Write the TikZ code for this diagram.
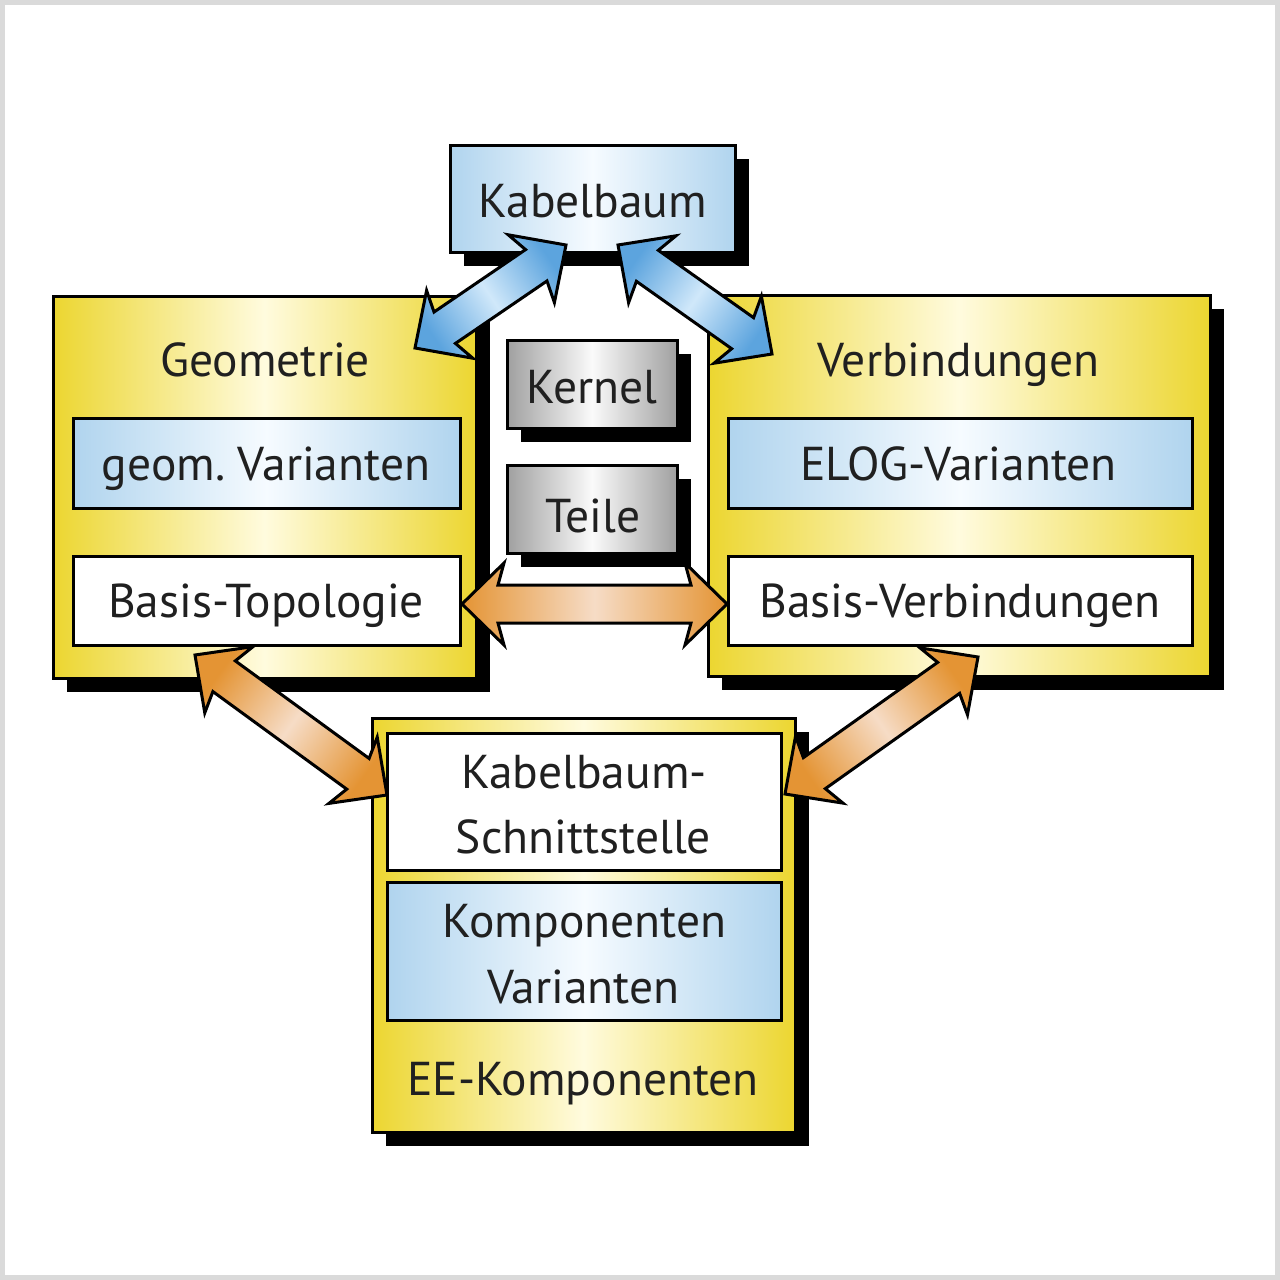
\documentclass[tikz,border=0pt]{standalone}
\usepackage{fontspec}
\setmainfont{PT Sans}
\usetikzlibrary{calc,shadows}
\definecolor{yel}{RGB}{236,214,48}
\definecolor{yelL}{RGB}{255,251,222}
\definecolor{blu}{RGB}{176,212,238}
\definecolor{bluL}{RGB}{246,251,255}
\definecolor{gry}{RGB}{160,160,160}
\definecolor{gryL}{RGB}{250,250,250}
\definecolor{orD}{RGB}{228,148,52}
\definecolor{orL}{RGB}{246,220,198}
\definecolor{arB}{RGB}{92,164,222}
\definecolor{arBL}{RGB}{208,232,250}
\definecolor{txt}{RGB}{32,32,32}
\definecolor{frame}{RGB}{218,218,218}
\frenchspacing
\tikzset{
  box/.style={draw=black, line width=3pt, rectangle, inner sep=0pt},
  shad/.style={drop shadow={shadow xshift=14pt, shadow yshift=-14pt, fill=black, opacity=1}},
  ybox/.style={box, shad, left color=yel, right color=yel, middle color=yelL},
  bbox/.style={box, left color=blu, right color=blu, middle color=bluL},
  wbox/.style={box, fill=white},
  gbox/.style={box, shad, left color=gry, right color=gry, middle color=gryL},
  lbl/.style={text=txt, font=\fontsize{47.5}{58}\selectfont, inner sep=0pt, anchor=base},
  blarrow/.style={draw=black, line width=3pt, line join=miter, left color=arB, right color=arB, middle color=arBL},
  orarrow/.style={draw=black, line width=3pt, line join=miter, left color=orD, right color=orD, middle color=orL},
}
% double block arrow between two named coordinates: #1 start, #2 end, #3 style, #4 shading angle
\newcommand\dblarr[4]{%
  \path[#3, shading angle=#4]
    (#1)
    -- ($(#1)!42pt!(#2)!41pt!90:(#2)$)
    -- ($(#1)!36pt!(#2)!19pt!90:(#2)$)
    -- ($(#2)!36pt!(#1)!19pt!-90:(#1)$)
    -- ($(#2)!42pt!(#1)!41pt!-90:(#1)$)
    -- (#2)
    -- ($(#2)!42pt!(#1)!41pt!90:(#1)$)
    -- ($(#2)!36pt!(#1)!19pt!90:(#1)$)
    -- ($(#1)!36pt!(#2)!19pt!-90:(#2)$)
    -- ($(#1)!42pt!(#2)!41pt!-90:(#2)$)
    -- cycle;}
\begin{document}
\begin{tikzpicture}[x=1pt,y=-1pt]
\useasboundingbox (0,0) rectangle (1280,1280);
\fill[white] (0,0) rectangle (1280,1280);
\draw[frame, line width=5pt] (2.5,2.5) rectangle (1277.5,1277.5);

% top box
\node[box, shad, left color=blu, right color=blu, middle color=bluL, minimum width=285pt, minimum height=107pt] (kb) at (592.5,198.5) {};
\node[lbl] (kbt) at (593,217) {Kabelbaum};

% left group
\node[ybox, minimum width=423pt, minimum height=382pt] (geo) at (264.5,487) {};
\node[lbl] (geot) at (265,376) {Geometrie};
\node[bbox, minimum width=387pt, minimum height=90pt] (gv) at (266.5,463) {};
\node[lbl] (gvt) at (266,480) {geom. Varianten};
\node[wbox, minimum width=387pt, minimum height=89pt] (bt) at (266.5,600.5) {};
\node[lbl] (btt) at (266,617) {Basis-Topologie};

% right group
\node[ybox, minimum width=502pt, minimum height=381pt] (ver) at (959,485.5) {};
\node[lbl] (vert) at (958.5,376) {Verbindungen};
\node[bbox, minimum width=464pt, minimum height=90pt] (ev) at (960,463) {};
\node[lbl] (evt) at (958.5,480) {ELOG-Varianten};
\node[wbox, minimum width=464pt, minimum height=89pt] (bv) at (960,600.5) {};
\node[lbl] (bvt) at (960,617) {Basis-Verbindungen};

% middle
\node[gbox, minimum width=170pt, minimum height=88pt] (ke) at (592,384) {};
\node[lbl] (ket) at (592,403) {Kernel};
\node[gbox, minimum width=170pt, minimum height=88pt] (te) at (592,509) {};
\node[lbl] (tet) at (593,532) {Teile};

% bottom group
\node[ybox, minimum width=423pt, minimum height=414pt] (ee) at (583.5,925) {};
\node[wbox, minimum width=394pt, minimum height=137pt] (ks) at (584.5,801.5) {};
\node[lbl] (ks1) at (584,788) {Kabelbaum-};
\node[lbl] (ks2) at (583.5,853) {Schnittstelle};
\node[bbox, minimum width=394pt, minimum height=138pt] (kv) at (584.5,951) {};
\node[lbl] (kv1) at (584.5,937) {Komponenten};
\node[lbl] (kv2) at (583.5,1003) {Varianten};
\node[lbl] (eet) at (583,1095) {EE-Komponenten};

% arrow end points
\coordinate (b1a) at (415,348);
\coordinate (b1b) at (566,245);
\coordinate (b2a) at (618,245);
\coordinate (b2b) at (772,354);
\coordinate (o1a) at (462,604);
\coordinate (o1b) at (727,604);
\coordinate (o2a) at (195,655);
\coordinate (o2b) at (387,795);
\coordinate (o3a) at (785,794);
\coordinate (o3b) at (978,657);

\dblarr{b1a}{b1b}{blarrow}{124}
\dblarr{b2a}{b2b}{blarrow}{55}
\dblarr{o1a}{o1b}{orarrow}{90}
\dblarr{o2a}{o2b}{orarrow}{54}
\dblarr{o3a}{o3b}{orarrow}{125}
\end{tikzpicture}
\end{document}
